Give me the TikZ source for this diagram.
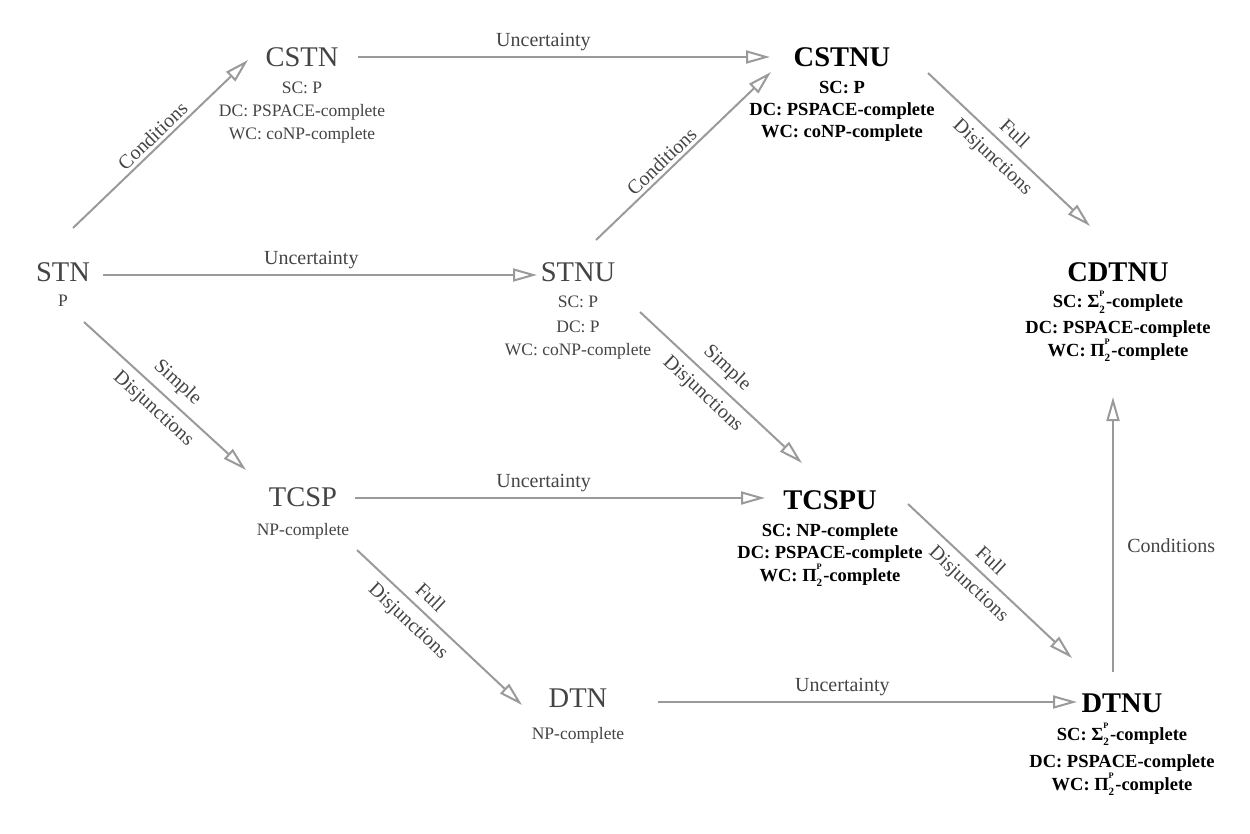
\documentclass[tikz,border=0pt]{standalone}
\usepackage{fontspec}
\setmainfont{Liberation Serif}
\usepackage{graphicx}
\usetikzlibrary{arrows.meta}
\definecolor{txtgray}{HTML}{444444}
\definecolor{linegray}{HTML}{9A9A9A}
\newcommand{\SubSup}[2]{\makebox[0.36em][l]{\rlap{\raisebox{-0.3em}{\scalebox{0.6}{#1}}}\raisebox{0.62em}{\scalebox{0.45}{#2}}}}
\begin{document}
\begin{tikzpicture}[x=1pt,y=-1pt,
  ttl/.style={font=\fontsize{28.5}{30}\selectfont, text=txtgray, inner sep=0pt},
  bttl/.style={font=\fontsize{28.5}{30}\selectfont\bfseries, text=black, inner sep=0pt},
  sub/.style={font=\fontsize{17.5}{20}\selectfont, text=txtgray, anchor=base, inner sep=0pt},
  bsub/.style={font=\fontsize{18.5}{20}\selectfont\bfseries, text=black, anchor=base, inner sep=0pt},
  lbl/.style={font=\fontsize{20}{22}\selectfont, text=txtgray},
  up/.style={lbl, sloped, above, inner sep=8pt},
  dn/.style={lbl, sloped, below, inner sep=8pt},
  arr/.style={draw=linegray, line width=2pt, -{Triangle[open, length=24pt, width=13pt, line width=2pt]}}
]
\useasboundingbox (0,0) rectangle (1250,834);

% nodes
\node[ttl] (stn) at (63,272) {STN};
\node[sub] (stn1) at (63,307) {P};

\node[ttl] (cstn) at (302,57) {CSTN};
\node[sub] (cstn1) at (302,94) {SC: P};
\node[sub] (cstn2) at (302,117) {DC: PSPACE-complete};
\node[sub] (cstn3) at (302,140) {WC: coNP-complete};

\node[bttl] (cstnu) at (842,57) {CSTNU};
\node[bsub] (cstnu1) at (842,94) {SC: P};
\node[bsub] (cstnu2) at (842,116) {DC: PSPACE-complete};
\node[bsub] (cstnu3) at (842,138) {WC: coNP-complete};

\node[ttl] (stnu) at (578,272) {STNU};
\node[sub] (stnu1) at (578,308) {SC: P};
\node[sub] (stnu2) at (578,332) {DC: P};
\node[sub] (stnu3) at (578,355) {WC: coNP-complete};

\node[bttl] (cdtnu) at (1118,272) {CDTNU};
\node[bsub] (cdtnu1) at (1118,308) {SC: Σ\SubSup{2}{P}-complete};
\node[bsub] (cdtnu2) at (1118,333) {DC: PSPACE-complete};
\node[bsub] (cdtnu3) at (1118,356) {WC: Π\SubSup{2}{P}-complete};

\node[ttl] (tcsp) at (303,497) {TCSP};
\node[sub] (tcsp1) at (303,535) {NP-complete};

\node[bttl] (tcspu) at (830,500) {TCSPU};
\node[bsub] (tcspu1) at (830,536) {SC: NP-complete};
\node[bsub] (tcspu2) at (830,558) {DC: PSPACE-complete};
\node[bsub] (tcspu3) at (830,581) {WC: Π\SubSup{2}{P}-complete};

\node[ttl] (dtn) at (578,698) {DTN};
\node[sub] (dtn1) at (578,739) {NP-complete};

\node[bttl] (dtnu) at (1122,703) {DTNU};
\node[bsub] (dtnu1) at (1122,740) {SC: Σ\SubSup{2}{P}-complete};
\node[bsub] (dtnu2) at (1122,767) {DC: PSPACE-complete};
\node[bsub] (dtnu3) at (1122,790) {WC: Π\SubSup{2}{P}-complete};

% connectors
\draw[arr] ([shift={(10,-44)}]stn.center) -- ([shift={(-54,3)}]cstn.center)
  node[pos=.5, lbl, sloped, above] (l1) {Conditions};
\draw[arr] ([shift={(56,0)}]cstn.center) -- ([shift={(-72,0)}]cstnu.center)
  node[pos=.45, lbl, above=2pt] (l2) {Uncertainty};
\draw[arr] ([shift={(40,3)}]stn.center) -- ([shift={(-41,3)}]stnu.center)
  node[pos=.48, lbl, above=2pt] (l3) {Uncertainty};
\draw[arr] ([shift={(18,-32)}]stnu.center) -- ([shift={(-71,15)}]cstnu.center)
  node[pos=.42, lbl, sloped, above] (l4) {Conditions};
\draw[arr] ([shift={(86,16)}]cstnu.center) -- ([shift={(-28,-46)}]cdtnu.center)
  node[pos=.47, up] (l5a) {Full} node[pos=.47, dn] (l5b) {Disjunctions};
\draw[arr] ([shift={(21,50)}]stn.center) -- ([shift={(-57,-27)}]tcsp.center)
  node[pos=.5, up] (l6a) {Simple} node[pos=.5, dn] (l6b) {Disjunctions};
\draw[arr] ([shift={(62,40)}]stnu.center) -- ([shift={(-28,-37)}]tcspu.center)
  node[pos=.46, up] (l7a) {Simple} node[pos=.46, dn] (l7b) {Disjunctions};
\draw[arr] ([shift={(52,1)}]tcsp.center) -- ([shift={(-65,-2)}]tcspu.center)
  node[pos=.46, lbl, above=2pt] (l8) {Uncertainty};
\draw[arr] ([shift={(54,53)}]tcsp.center) -- ([shift={(-56,7)}]dtn.center)
  node[pos=.38, up] (l9a) {Full} node[pos=.38, dn] (l9b) {Disjunctions};
\draw[arr] ([shift={(78,4)}]tcspu.center) -- ([shift={(-50,-45)}]dtnu.center)
  node[pos=.44, up] (l10a) {Full} node[pos=.44, dn] (l10b) {Disjunctions};
\draw[arr] ([shift={(80,4)}]dtn.center) -- ([shift={(-45,-1)}]dtnu.center)
  node[pos=.44, lbl, above=2pt] (l11) {Uncertainty};
\draw[arr] ([shift={(-9,-31)}]dtnu.center) -- ([shift={(-5,125)}]cdtnu.center)
  node[pos=.46, lbl, right=10pt] (l12) {Conditions};
\end{tikzpicture}
\end{document}
